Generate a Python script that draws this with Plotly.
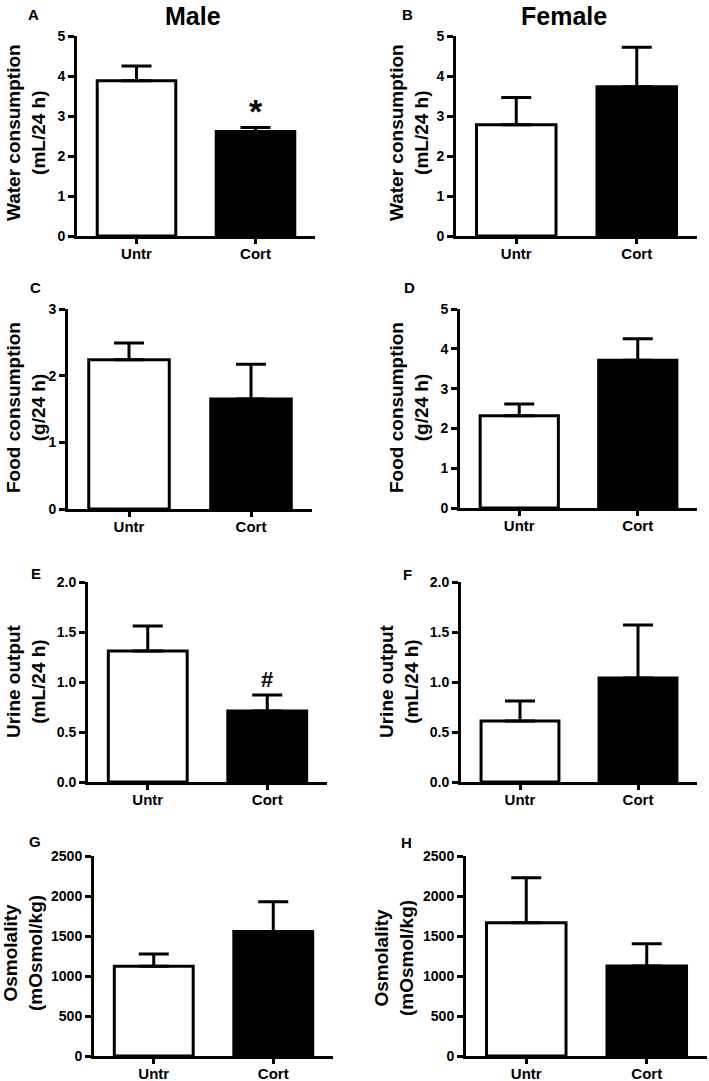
import plotly.graph_objects as go

W, H = 709, 1081

groups = ["Untr", "Cort"]

water_male = [3.88, 2.61]
water_male_sem = [0.37, 0.10]
water_female = [2.78, 3.73]
water_female_sem = [0.68, 0.99]
food_male = [2.24, 1.65]
food_male_sem = [0.25, 0.52]
food_female = [2.32, 3.71]
food_female_sem = [0.29, 0.54]
urine_male = [1.31, 0.71]
urine_male_sem = [0.25, 0.16]
urine_female = [0.61, 1.04]
urine_female_sem = [0.20, 0.53]
osm_male = [1121, 1557]
osm_male_sem = [153, 370]
osm_female = [1666, 1125]
osm_female_sem = [563, 279]

panels = [
    dict(letter="A", vals=water_male, sem=water_male_sem, ymax=5, dtick=1, fmt="d",
         title="Water consumption<br>(mL/24 h)"),
    dict(letter="B", vals=water_female, sem=water_female_sem, ymax=5, dtick=1, fmt="d",
         title="Water consumption<br>(mL/24 h)"),
    dict(letter="C", vals=food_male, sem=food_male_sem, ymax=3, dtick=1, fmt="d",
         title="Food consumption<br>(g/24 h)"),
    dict(letter="D", vals=food_female, sem=food_female_sem, ymax=5, dtick=1, fmt="d",
         title="Food consumption<br>(g/24 h)"),
    dict(letter="E", vals=urine_male, sem=urine_male_sem, ymax=2, dtick=0.5, fmt=".1f",
         title="Urine output<br>(mL/24 h)"),
    dict(letter="F", vals=urine_female, sem=urine_female_sem, ymax=2, dtick=0.5, fmt=".1f",
         title="Urine output<br>(mL/24 h)"),
    dict(letter="G", vals=osm_male, sem=osm_male_sem, ymax=2500, dtick=500, fmt="d",
         title="Osmolality<br>(mOsmol/kg)"),
    dict(letter="H", vals=osm_female, sem=osm_female_sem, ymax=2500, dtick=500, fmt="d",
         title="Osmolality<br>(mOsmol/kg)"),
]

# layout geometry in pixels: (x0, x1, y_top, y_bottom), title center, letter pos
geom = [
    ((77, 315, 36, 236), (26, 133), (33, 15)),
    ((456, 697, 36, 236), (409, 133), (407, 15)),
    ((68, 312, 309, 509), (26, 408), (35, 287)),
    ((460, 697, 309, 508), (409, 408), (409, 287)),
    ((88, 327, 582, 782), (26, 681), (36, 573)),
    ((461, 697, 582, 782), (399, 681), (407, 574)),
    ((94, 333, 856, 1056), (23, 953), (35, 841)),
    ((466, 707, 856, 1056), (394, 958), (406, 842)),
]

FONT = "Liberation Sans, Arial, sans-serif"
fig = go.Figure()
annotations = []
layout = {}

for i, (p, g) in enumerate(zip(panels, geom)):
    n = i + 1
    (x0, x1, yt, yb), (tx, ty), (lx, ly) = g
    xa = "xaxis" if n == 1 else f"xaxis{n}"
    ya = "yaxis" if n == 1 else f"yaxis{n}"
    xr = "x" if n == 1 else f"x{n}"
    yr = "y" if n == 1 else f"y{n}"
    fig.add_trace(go.Bar(
        x=groups, y=p["vals"], xaxis=xr, yaxis=yr,
        width=0.66,
        marker=dict(color=["white", "black"], line=dict(color="black", width=3)),
        error_y=dict(type="data", symmetric=False, array=p["sem"],
                     arrayminus=[0, 0], color="black", thickness=3, width=15),
        showlegend=False, hoverinfo="skip",
    ))
    layout[xa] = dict(
        domain=[x0 / W, x1 / W], anchor=yr, range=[-0.5, 1.5], automargin=False,
        showline=True, linecolor="black", linewidth=3,
        ticks="outside", ticklen=5, tickwidth=3, tickcolor="black",
        ticklabelstandoff=-3,
        showgrid=False, zeroline=False, fixedrange=True,
        tickfont=dict(family=FONT, size=15, color="black", weight="bold"),
    )
    layout[ya] = dict(
        domain=[1 - yb / H, 1 - yt / H], anchor=xr, range=[0, p["ymax"]],
        dtick=p["dtick"], tick0=0, tickformat=p["fmt"], automargin=False,
        showline=True, linecolor="black", linewidth=3,
        ticks="outside", ticklen=6, tickwidth=3, tickcolor="black",
        showgrid=False, zeroline=False, fixedrange=True,
        tickfont=dict(family=FONT, size=14, color="black", weight="bold"),
    )
    annotations.append(dict(
        text=p["title"], x=tx / W, y=1 - ty / H, xref="paper", yref="paper",
        xanchor="center", yanchor="middle", textangle=-90, showarrow=False,
        font=dict(family=FONT, size=19, color="black", weight="bold"),
    ))
    annotations.append(dict(
        text=p["letter"], x=lx / W, y=1 - ly / H, xref="paper", yref="paper",
        xanchor="center", yanchor="middle", showarrow=False,
        font=dict(family=FONT, size=15, color="black", weight="bold"),
    ))

# column titles
annotations.append(dict(text="Male", x=193 / W, y=1, xref="paper", yref="paper",
                        xanchor="center", yanchor="top", showarrow=False,
                        font=dict(family=FONT, size=25, color="black", weight="bold")))
annotations.append(dict(text="Female", x=564 / W, y=1, xref="paper", yref="paper",
                        xanchor="center", yanchor="top", showarrow=False,
                        font=dict(family=FONT, size=25, color="black", weight="bold")))

# significance markers
annotations.append(dict(text="*", x="Cort", y=water_male[1] + water_male_sem[1],
                        xref="x", yref="y", xanchor="center", yanchor="bottom",
                        yshift=-4, showarrow=False,
                        font=dict(family=FONT, size=34, color="black", weight="bold")))
annotations.append(dict(text="#", x="Cort", y=urine_male[1] + urine_male_sem[1],
                        xref="x5", yref="y5", xanchor="center", yanchor="bottom",
                        yshift=1, showarrow=False,
                        font=dict(family=FONT, size=22, color="black", weight="bold")))

fig.update_layout(
    width=W, height=H, margin=dict(l=0, r=0, t=0, b=0, autoexpand=False),
    paper_bgcolor="white", plot_bgcolor="white", hovermode=False,
    annotations=annotations, bargap=0.3, **layout,
)

fig.write_html("out.html", config={"displayModeBar": False, "staticPlot": True},
               post_script="document.body.style.margin='0';")
